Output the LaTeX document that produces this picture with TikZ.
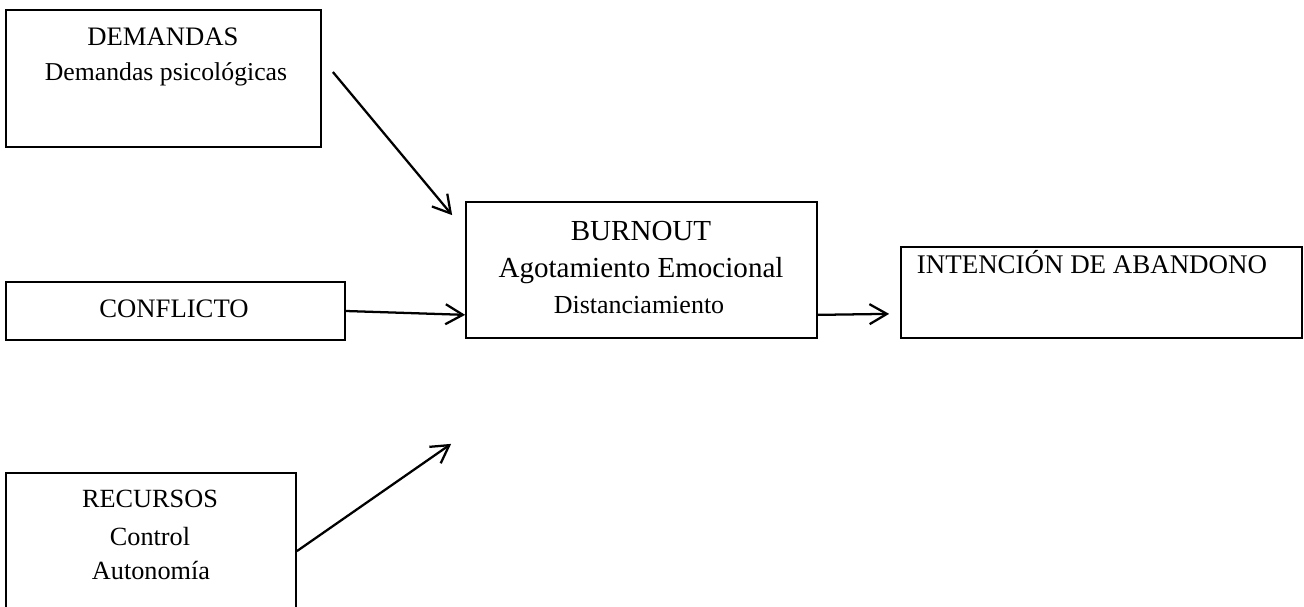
\documentclass[tikz,border=0pt]{standalone}
\usepackage{fontspec}
\setmainfont{Liberation Serif}
\usetikzlibrary{arrows.meta,calc}

\tikzset{
  box/.style={draw=black, line width=1.3pt, rectangle, inner sep=0pt},
  txt/.style={anchor=base, inner sep=0pt, font=\fontsize{#1}{#1}\selectfont},
  link/.style={line width=1.7pt, -{Straight Barb[length=13pt,width=15pt,line width=1.7pt]}}
}

\begin{document}
\begin{tikzpicture}[x=0.75pt, y=-0.75pt]
  \useasboundingbox (0,0) rectangle (1304,607);
  \clip (0,0) rectangle (1304,607);

  % boxes
  \node[box, minimum width=236.25pt, minimum height=102.75pt] (dem) at (163.5,78.5) {};
  \node[box, minimum width=254.25pt, minimum height=43.5pt]   (con) at (175.5,311) {};
  \node[box, minimum width=217.5pt,  minimum height=110.25pt] (rec) at (151,546.5) {};
  \node[box, minimum width=263.25pt, minimum height=102pt]    (bur) at (641.5,270) {};
  \node[box, minimum width=300.75pt, minimum height=68.25pt]  (int) at (1101.5,292.5) {};

  % labels
  \node[txt=20]   (demA) at (163,45)  {DEMANDAS};
  \node[txt=19.3] (demB) at (166,80)  {Demandas psicológicas};
  \node[txt=20]   (conA) at (174,317) {CONFLICTO};
  \node[txt=19.7] (recA) at (150,507) {RECURSOS};
  \node[txt=19.7] (recB) at (150,545) {Control};
  \node[txt=19.7] (recC) at (151,579) {Autonomía};
  \node[txt=21.8] (burA) at (641,240) {BURNOUT};
  \node[txt=21.8] (burB) at (641,277) {Agotamiento Emocional};
  \node[txt=19.5] (burC) at (639,313) {Distanciamiento};
  \node[txt=20.2] (intA) at (1092,273) {INTENCIÓN DE ABANDONO};

  % arrow ends that stand off the boxes
  \coordinate (demOut) at ($(dem.east)+(11,-6.5)$);
  \coordinate (burInD) at ($(bur.north west)+(-13,14)$);
  \coordinate (burInC) at ($(bur.south west)+(0,-24)$);
  \coordinate (recOut) at ($(rec.north east)+(0,79)$);
  \coordinate (burInR) at ($(bur.south west)+(-14,105)$);
  \coordinate (burOut) at ($(bur.south east)+(0,-24)$);
  \coordinate (intIn)  at ($(int.south west)+(-11,-25)$);

  % connectors
  \draw[link] (demOut) -- (burInD);
  \draw[link] (con.east) -- (burInC);
  \draw[link] (recOut) -- (burInR);
  \draw[link] (burOut) -- (intIn);
\end{tikzpicture}
\end{document}
